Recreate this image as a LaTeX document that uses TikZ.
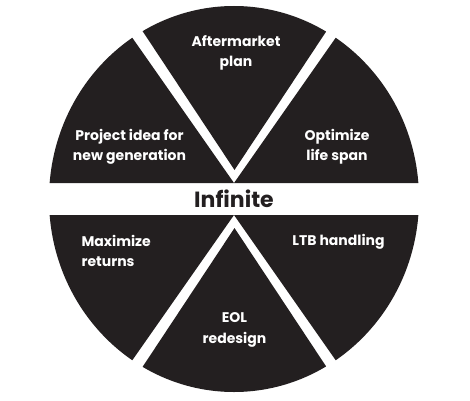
\documentclass[tikz,border=0pt]{standalone}
\usepackage{fontspec}
\usetikzlibrary{calc}
\newfontfamily\geofont{Poppins}
\definecolor{piedark}{HTML}{231F20}
\begin{document}
\begin{tikzpicture}[
    x=1pt, y=1pt,
    sector/.style={fill=piedark},
    slicetext/.style={text=white, font=\geofont\bfseries\fontsize{14}{20.5}\selectfont, align=center},
    hubtext/.style={text=piedark, font=\geofont\bfseries\fontsize{22}{24}\selectfont}
]
\useasboundingbox (0,0) rectangle (470,400);

% split points of the pie
\coordinate (uppersplit) at (234,217);
\coordinate (lowersplit) at (234,185);
\coordinate (topapex) at (234.5,230);
\coordinate (bottomapex) at (234.5,172);

\begin{scope}
\clip (234,201) ellipse [x radius=185, y radius=193];
\fill[sector] (uppersplit) -- ++(0:300) -- ($(uppersplit)+(55:300)$) -- cycle;
\fill[sector] (topapex) -- ++(56.5:300) -- ($(topapex)+(123.5:300)$) -- cycle;
\fill[sector] (uppersplit) -- ++(125:300) -- ($(uppersplit)+(180:300)$) -- cycle;
\fill[sector] (lowersplit) -- ++(180:300) -- ($(lowersplit)+(235:300)$) -- cycle;
\fill[sector] (bottomapex) -- ++(236.5:300) -- ($(bottomapex)+(303.5:300)$) -- cycle;
\fill[sector] (lowersplit) -- ++(305:300) -- ($(lowersplit)+(360:300)$) -- cycle;
\end{scope}

\node[slicetext] (aftermarket) at (236,347) {Aftermarket\\plan};
\node[slicetext] (optimize) at (337,253) {Optimize\\life span};
\node[slicetext] (ltb) at (338.5,158) {LTB handling};
\node[slicetext] (eol) at (234.5,70) {EOL\\redesign};
\node[slicetext, align=left, anchor=west] (maximize) at (78,149) {Maximize\\returns};
\node[slicetext] (project) at (129.5,253) {Project idea for\\new generation};
\node[hubtext] (infinite) at (234,201) {Infinite};
\end{tikzpicture}
\end{document}
